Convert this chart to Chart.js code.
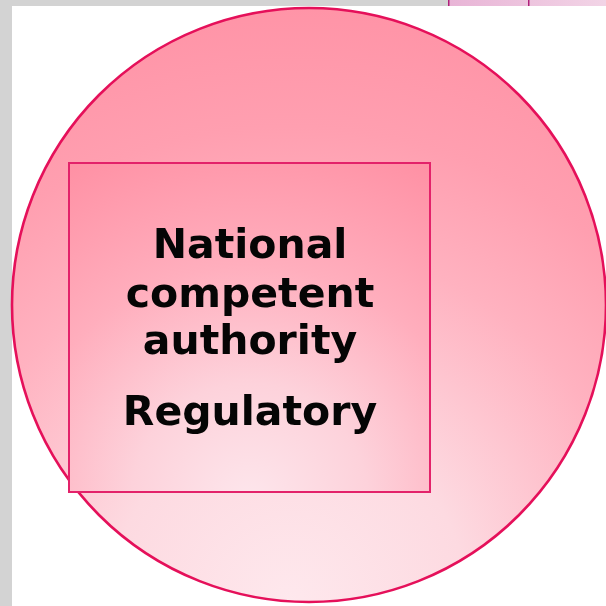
<!DOCTYPE html>
<html>
<head>
<meta charset="utf-8">
<script src="https://cdn.jsdelivr.net/npm/chart.js@4.4.1/dist/chart.umd.min.js"></script>
<style>
  html, body { margin: 0; padding: 0; background: #d3d3d3; }
  #wrap { width: 606px; height: 606px; position: relative; }
  canvas { display: block; }
</style>
</head>
<body>
<div id="wrap"><canvas id="diagram" width="606" height="606"></canvas></div>
<script>
// ---- diagram data (in slide units, 0..606 each way) ----
const circleCentre = [309, 305];
const circleRadius = [297];
const boxBounds = [69, 163, 430, 492];       // left, top, right, bottom
const labelLines = ["National", "competent", "authority", "Regulatory"];
const labelBaselines = [258, 307, 354, 425];
const labelCentreX = [250];
const slideBounds = [12, 6];                 // white slide starts here
const neighbourTab = [448, 528, 606, 6];      // purple shape peeking in at the top

const CRIMSON = "#e5105a";

// ============================================
// Plugin: paints the shapes through the scales
// ============================================
const shapesPlugin = {
    id: "shapes",
    beforeDatasetsDraw(chart) {
        const { ctx } = chart;
        const sx = chart.scales.x;
        const sy = chart.scales.y;
        const px = (v) => sx.getPixelForValue(v);
        const py = (v) => sy.getPixelForValue(v);

        ctx.save();

        // slide background
        ctx.fillStyle = "#ffffff";
        ctx.fillRect(px(slideBounds[0]), py(slideBounds[1]), px(606) - px(slideBounds[0]), py(606) - py(slideBounds[1]));

        // bit of the neighbouring shape at the top right
        const tabGrad = ctx.createLinearGradient(px(neighbourTab[0]), 0, px(neighbourTab[2]), 0);
        tabGrad.addColorStop(0, "#e8b4d6");
        tabGrad.addColorStop(1, "#f2d4e6");
        ctx.fillStyle = tabGrad;
        ctx.fillRect(px(neighbourTab[0]), py(0), px(neighbourTab[2]) - px(neighbourTab[0]), py(neighbourTab[3]) - py(0));
        ctx.fillStyle = "#b0207a";
        ctx.fillRect(px(neighbourTab[0]), py(0), 1.5, py(neighbourTab[3]) - py(0));
        ctx.fillRect(px(neighbourTab[1]), py(0), 1.5, py(neighbourTab[3]) - py(0));

        // big circle
        const cx = px(circleCentre[0]);
        const cy = py(circleCentre[1]);
        const r = px(circleCentre[0] + circleRadius[0]) - cx;
        const cGrad = ctx.createRadialGradient(cx - 20, cy + r, 0, cx - 20, cy + r, 2 * r);
        cGrad.addColorStop(0, "#fee8ed");
        cGrad.addColorStop(0.3, "#fddae1");
        cGrad.addColorStop(0.6, "#ffb2c0");
        cGrad.addColorStop(0.8, "#ff9fb0");
        cGrad.addColorStop(1, "#ff94a7");
        ctx.beginPath();
        ctx.arc(cx, cy, r, 0, Math.PI * 2);
        ctx.fillStyle = cGrad;
        ctx.fill();
        ctx.lineWidth = 2.6;
        ctx.strokeStyle = CRIMSON;
        ctx.stroke();

        // square
        const bx0 = px(boxBounds[0]), by0 = py(boxBounds[1]);
        const bx1 = px(boxBounds[2]), by1 = py(boxBounds[3]);
        const bcx = (bx0 + bx1) / 2;
        const bGrad = ctx.createRadialGradient(bcx, by1 + 10, 0, bcx, by1 + 10, (by1 - by0) * 1.2);
        bGrad.addColorStop(0, "#fde6ec");
        bGrad.addColorStop(0.3, "#fdd2db");
        bGrad.addColorStop(0.6, "#ffaebd");
        bGrad.addColorStop(1, "#ff8ea2");
        ctx.fillStyle = bGrad;
        ctx.fillRect(bx0, by0, bx1 - bx0, by1 - by0);
        ctx.lineWidth = 2;
        ctx.strokeStyle = "#e3226a";
        ctx.strokeRect(bx0, by0, bx1 - bx0, by1 - by0);

        // label
        ctx.fillStyle = "#050505";
        ctx.textAlign = "center";
        ctx.textBaseline = "alphabetic";
        ctx.font = "bold 41px 'DejaVu Sans'";
        labelLines.forEach((line, i) => {
            ctx.fillText(line, px(labelCentreX[0]), py(labelBaselines[i]));
        });

        ctx.restore();
    },
};

new Chart(document.getElementById("diagram"), {
    type: "scatter",
    data: { datasets: [{ data: [], showLine: false }] },
    options: {
        responsive: false,
        animation: false,
        layout: { padding: 0 },
        scales: {
            x: { type: "linear", min: 0, max: 606, display: false },
            y: { type: "linear", min: 0, max: 606, reverse: true, display: false },
        },
        plugins: { legend: { display: false }, tooltip: { enabled: false } },
    },
    plugins: [shapesPlugin],
});
</script>
</body>
</html>
